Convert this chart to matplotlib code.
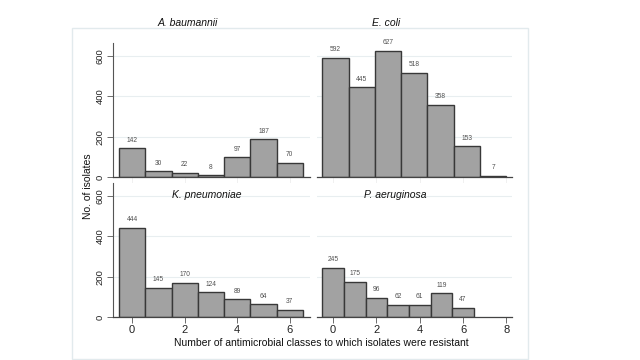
import numpy as np
import matplotlib
matplotlib.use('Agg')
import matplotlib.pyplot as plt
from matplotlib.patches import Rectangle

plt.rcParams.update({
    'font.family': ['Liberation Sans', 'DejaVu Sans'],
    'font.size': 7,
})

# counts per bin (number of antimicrobial classes resistant)
classes = np.arange(7)
ab_counts = [142, 30, 22, 8, 97, 187, 70]
ec_counts = [592, 445, 627, 518, 358, 153, 7]
kp_counts = [444, 145, 170, 124, 89, 64, 37]
pa_counts = [245, 175, 96, 62, 61, 119, 47]
# E. coli uses 7 equal bins spanning -0.5 .. 8
ec_edges = np.linspace(-0.5, 8, 8)

y_ticks = [0, 200, 400, 600]
x_ticks_left = [0, 2, 4, 6]
x_ticks_right = [0, 2, 4, 6, 8]

W, H = 640, 360
fig = plt.figure(figsize=(W / 100, H / 100), dpi=100)
fig.patch.set_facecolor('white')

# outer frame
fig.patches.append(Rectangle((72 / W, 1 - 359 / H), 456 / W, 331 / H,
                             transform=fig.transFigure, fill=False,
                             edgecolor='#e2eaed', lw=1.0))


def px_axes(x0, x1, y0, y1):
    return fig.add_axes([x0 / W, 1 - y1 / H, (x1 - x0) / W, (y1 - y0) / H])


BAR = '#a2a2a2'
EDGE = '#383838'
GRID = '#e8eef0'


def style(ax, left, bottom_labels, xlim, xticks):
    ax.set_xlim(*xlim)
    ax.set_ylim(0, 665)
    ax.set_yticks(y_ticks)
    ax.set_xticks(xticks)
    for s in ['top', 'right']:
        ax.spines[s].set_visible(False)
    ax.spines['bottom'].set_color('#444444')
    ax.spines['bottom'].set_linewidth(0.9)
    ax.yaxis.grid(True, color=GRID, lw=0.8)
    ax.set_axisbelow(True)
    if left:
        ax.spines['left'].set_color('#555555')
        ax.spines['left'].set_linewidth(0.8)
        ax.tick_params(axis='y', length=4, width=0.6, color='#555555',
                       labelsize=6.8, pad=2, labelcolor='#222222')
        for lab in ax.get_yticklabels():
            lab.set_rotation(90)
            lab.set_va('center')
    else:
        ax.spines['left'].set_visible(False)
        ax.tick_params(axis='y', length=0, labelleft=False)
    if bottom_labels:
        ax.tick_params(axis='x', length=4, width=0.6, color='#555555',
                       labelsize=8, pad=2, labelcolor='#222222')
    else:
        ax.tick_params(axis='x', length=4, width=0.6, color='#eeeeee',
                       labelbottom=False)


def label_bars(ax, xs, counts):
    for x, c in zip(xs, counts):
        ax.text(x, c + 22, str(c), ha='center', va='bottom', fontsize=4.8,
                color='#505050')


left_lim = (-0.73, 6.77)
right_lim = (-0.74, 8.26)

ax1 = px_axes(113, 310, 43, 177)
ax1.bar(classes, ab_counts, width=1, color=BAR, edgecolor=EDGE, lw=1.0)
label_bars(ax1, classes, ab_counts)
style(ax1, True, False, left_lim, x_ticks_left)

ax2 = px_axes(317, 512, 43, 177)
ec_w = np.diff(ec_edges)
ax2.bar(ec_edges[:-1], ec_counts, width=ec_w, align='edge', color=BAR,
        edgecolor=EDGE, lw=1.0)
label_bars(ax2, ec_edges[:-1] + ec_w / 2, ec_counts)
style(ax2, False, False, right_lim, x_ticks_right)

ax3 = px_axes(113, 310, 183, 317)
ax3.bar(classes, kp_counts, width=1, color=BAR, edgecolor=EDGE, lw=1.0)
label_bars(ax3, classes, kp_counts)
style(ax3, True, True, left_lim, x_ticks_left)

ax4 = px_axes(317, 512, 183, 317)
ax4.bar(classes, pa_counts, width=1, color=BAR, edgecolor=EDGE, lw=1.0)
label_bars(ax4, classes, pa_counts)
style(ax4, False, True, right_lim, x_ticks_right)

# panel titles
tkw = dict(ha='center', va='center', fontsize=7.5, style='italic', color='#111111')
fig.text(188 / W, 1 - 23 / H, 'A. baumannii', **tkw)
fig.text(386 / W, 1 - 23 / H, 'E. coli', **tkw)
fig.text(207 / W, 1 - 195 / H, 'K. pneumoniae', **tkw)
fig.text(395 / W, 1 - 195 / H, 'P. aeruginosa', **tkw)

fig.text(88 / W, 1 - 186 / H, 'No. of isolates', rotation=90, ha='center',
         va='center', fontsize=7.5, color='#111111')
fig.text(321 / W, 1 - 343 / H,
         'Number of antimicrobial classes to which isolates were resistant',
         ha='center', va='center', fontsize=7.5, color='#111111')

fig.savefig('out.png', dpi=100)
